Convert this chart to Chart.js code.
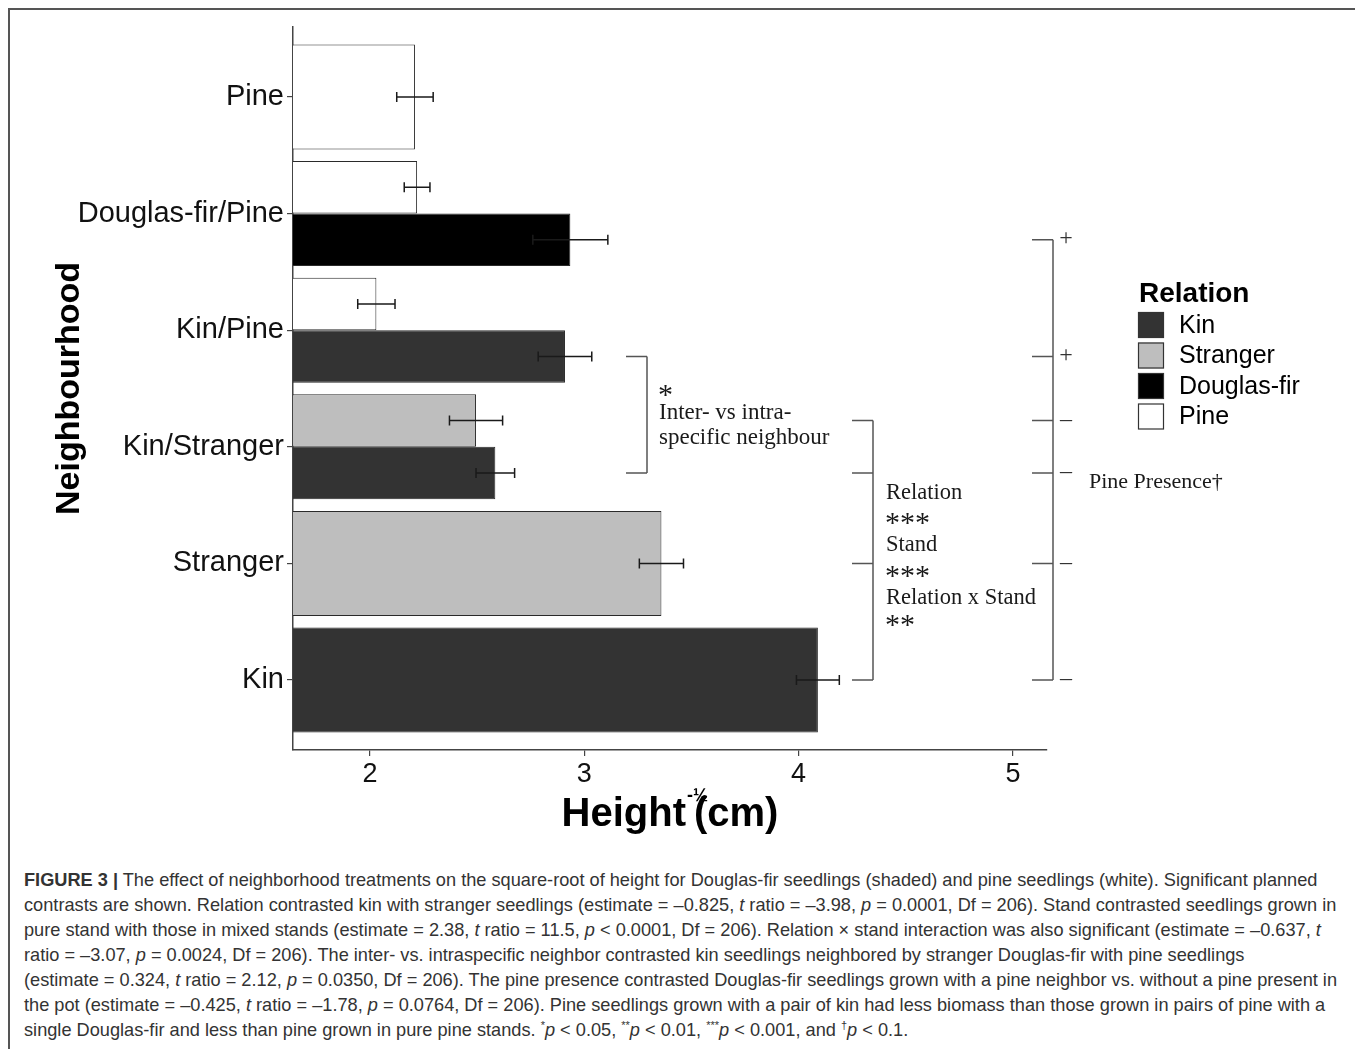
<!DOCTYPE html>
<html>
<head>
<meta charset="utf-8">
<title>Figure 3</title>
<script src="https://cdn.jsdelivr.net/npm/chart.js@4.4.0/dist/chart.umd.min.js"></script>
<style>
    body { margin: 0; background: #fff; }
    #page { position: relative; width: 1355px; height: 1049px; overflow: hidden; background: #fff; }
    #frame { position: absolute; left: 8px; top: 8px; width: 1400px; height: 1100px; border-left: 2px solid #555; border-top: 2px solid #555; }
    #plot { position: absolute; left: 0; top: 0; }
    #caption { position: absolute; left: 24px; top: 868px; font-family: "Liberation Sans", Arial, sans-serif; font-size: 18.2px; line-height: 25px; color: #333; white-space: nowrap; }
    #caption sup { font-size: 11px; line-height: 0; }
</style>
</head>
<body>
<div id="page">
    <div id="frame"></div>
    <canvas id="plot" width="1355" height="860"></canvas>
    <div id="caption">
        <div><b>FIGURE 3 |</b> The effect of neighborhood treatments on the square-root of height for Douglas-fir seedlings (shaded) and pine seedlings (white). Significant planned</div>
        <div>contrasts are shown. Relation contrasted kin with stranger seedlings (estimate = –0.825, <i>t</i> ratio = –3.98, <i>p</i> = 0.0001, Df = 206). Stand contrasted seedlings grown in</div>
        <div>pure stand with those in mixed stands (estimate = 2.38, <i>t</i> ratio = 11.5, <i>p</i> &lt; 0.0001, Df = 206). Relation × stand interaction was also significant (estimate = –0.637, <i>t</i></div>
        <div>ratio = –3.07, <i>p</i> = 0.0024, Df = 206). The inter- vs. intraspecific neighbor contrasted kin seedlings neighbored by stranger Douglas-fir with pine seedlings</div>
        <div>(estimate = 0.324, <i>t</i> ratio = 2.12, <i>p</i> = 0.0350, Df = 206). The pine presence contrasted Douglas-fir seedlings grown with a pine neighbor vs. without a pine present in</div>
        <div>the pot (estimate = –0.425, <i>t</i> ratio = –1.78, <i>p</i> = 0.0764, Df = 206). Pine seedlings grown with a pair of kin had less biomass than those grown in pairs of pine with a</div>
        <div>single Douglas-fir and less than pine grown in pure pine stands. <sup>*</sup><i>p</i> &lt; 0.05, <sup>**</sup><i>p</i> &lt; 0.01, <sup>***</sup><i>p</i> &lt; 0.001, and <sup>†</sup><i>p</i> &lt; 0.1.</div>
    </div>
</div>
<script>
// values
const categories = ['Pine', 'Douglas-fir/Pine', 'Kin/Pine', 'Kin/Stranger', 'Stranger', 'Kin'];
const pineHeight = [2.21, 2.22, 2.03, null, null, null];
const pineSE = [0.085, 0.06, 0.087, null, null, null];
const strangerHeight = [null, null, null, 2.495, 3.36, null];
const strangerSE = [null, null, null, 0.124, 0.103, null];
const douglasHeight = [null, 2.935, null, null, null, null];
const douglasSE = [null, 0.175, null, null, null, null];
const kinHeight = [null, null, 2.91, 2.585, null, 4.09];
const kinSE = [null, null, 0.125, 0.09, null, 0.1];
const xTicks = [2, 3, 4, 5];
const xMin = 1.641, xMax = 5.159;
const legendOrder = ['Kin', 'Stranger', 'Douglas-fir', 'Pine'];

const seByLabel = { 'Pine': pineSE, 'Stranger': strangerSE, 'Douglas-fir': douglasSE, 'Kin': kinSE };
const fills = { 'Pine': '#ffffff', 'Stranger': '#bebebe', 'Douglas-fir': '#000000', 'Kin': '#333333' };

const sans = '"Liberation Sans", Arial, sans-serif';
const serif = '"Liberation Serif", "Times New Roman", serif';

// contrast brackets: [series, category] pairs marking each end
const brackets = [
    { x: 647, marks: [['Kin', 'Kin/Pine'], ['Kin', 'Kin/Stranger']] },
    { x: 873, marks: [['Stranger', 'Kin/Stranger'], ['Kin', 'Kin/Stranger'], ['Stranger', 'Stranger'], ['Kin', 'Kin']] },
    { x: 1053, marks: [['Douglas-fir', 'Douglas-fir/Pine'], ['Kin', 'Kin/Pine'], ['Stranger', 'Kin/Stranger'], ['Kin', 'Kin/Stranger'], ['Stranger', 'Stranger'], ['Kin', 'Kin']],
      signs: ['+', '+', '–', '–', '–', '–'] }
];

function barY(chart, label, cat) {
    const i = chart.data.datasets.findIndex(d => d.label === label);
    return chart.getDatasetMeta(i).data[categories.indexOf(cat)].y;
}

const errorBars = {
    id: 'errorBars',
    afterDatasetsDraw(chart) {
        const ctx = chart.ctx, x = chart.scales.x;
        ctx.save();
        ctx.strokeStyle = '#1a1a1a';
        ctx.lineWidth = 1.5;
        chart.data.datasets.forEach((ds, i) => {
            const se = seByLabel[ds.label];
            chart.getDatasetMeta(i).data.forEach((bar, j) => {
                if (ds.data[j] == null) return;
                const lo = x.getPixelForValue(ds.data[j] - se[j]);
                const hi = x.getPixelForValue(ds.data[j] + se[j]);
                ctx.beginPath();
                ctx.moveTo(lo, bar.y); ctx.lineTo(hi, bar.y);
                ctx.moveTo(lo, bar.y - 5); ctx.lineTo(lo, bar.y + 5);
                ctx.moveTo(hi, bar.y - 5); ctx.lineTo(hi, bar.y + 5);
                ctx.stroke();
            });
        });
        ctx.restore();
    }
};

const extras = {
    id: 'extras',
    afterDraw(chart) {
        const ctx = chart.ctx, area = chart.chartArea;
        ctx.save();

        // x axis title with superscript
        ctx.fillStyle = '#000';
        ctx.textBaseline = 'alphabetic';
        ctx.textAlign = 'left';
        ctx.font = 'bold 40px ' + sans;
        const w1 = ctx.measureText('Height').width;
        const w3 = ctx.measureText('(cm)').width;
        const cx = (area.left + area.right) / 2;
        const start = cx - (w1 + 8 + w3) / 2;
        ctx.fillText('Height', start, 826);
        ctx.fillText('(cm)', start + w1 + 8, 826);
        ctx.font = 'bold 18px ' + sans;
        ctx.fillText('-½', start + w1 + 1, 801);

        // brackets
        ctx.strokeStyle = '#555';
        ctx.lineWidth = 1.5;
        brackets.forEach(b => {
            const ys = b.marks.map(m => barY(chart, m[0], m[1]));
            ctx.beginPath();
            ctx.moveTo(b.x, Math.min(...ys));
            ctx.lineTo(b.x, Math.max(...ys));
            ys.forEach(y => { ctx.moveTo(b.x - 21, y); ctx.lineTo(b.x, y); });
            ctx.stroke();
            if (b.signs) {
                ctx.font = '24px ' + serif;
                ctx.fillStyle = '#333';
                ctx.textAlign = 'center';
                ctx.textBaseline = 'middle';
                ys.forEach((y, k) => ctx.fillText(b.signs[k], b.x + 13, y - 1));
            }
        });

        // bracket labels
        ctx.fillStyle = '#1a1a1a';
        ctx.textAlign = 'left';
        ctx.textBaseline = 'alphabetic';
        ctx.font = '30px ' + serif;
        ctx.fillText('*', 658, 404);
        ctx.fillText('***', 885, 532);
        ctx.fillText('***', 885, 585);
        ctx.fillText('**', 885, 634);
        ctx.font = '23px ' + serif;
        ctx.fillText('Inter- vs intra-', 659, 419);
        ctx.fillText('specific neighbour', 659, 444);
        ctx.font = '22.5px ' + serif;
        ctx.fillText('Relation', 886, 499);
        ctx.fillText('Stand', 886, 551);
        ctx.fillText('Relation x Stand', 886, 604);
        ctx.font = '22px ' + serif;
        ctx.fillText('Pine Presence†', 1089, 488);

        // legend
        ctx.fillStyle = '#000';
        ctx.font = 'bold 28px ' + sans;
        ctx.fillText('Relation', 1139, 302);
        ctx.font = '25px ' + sans;
        ctx.strokeStyle = '#333';
        ctx.lineWidth = 1.2;
        legendOrder.forEach((name, k) => {
            const y = 312 + k * 30.5;
            ctx.fillStyle = fills[name];
            ctx.fillRect(1138, y, 26, 26);
            ctx.strokeRect(1138.5, y + 0.5, 25, 25);
            ctx.fillStyle = '#000';
            ctx.textBaseline = 'middle';
            ctx.fillText(name, 1179, y + 14);
        });
        ctx.restore();
    }
};

const datasets = ['Pine', 'Stranger', 'Douglas-fir', 'Kin'].map(name => ({
    label: name,
    data: { 'Pine': pineHeight, 'Stranger': strangerHeight, 'Douglas-fir': douglasHeight, 'Kin': kinHeight }[name],
    backgroundColor: fills[name],
    borderColor: '#2a2a2a',
    borderWidth: 1,
    skipNull: true,
    categoryPercentage: 0.9,
    barPercentage: 1
}));

new Chart(document.getElementById('plot'), {
    type: 'bar',
    data: { labels: categories, datasets: datasets },
    options: {
        indexAxis: 'y',
        responsive: false,
        animation: false,
        layout: { padding: { left: 0, right: 308, top: 27, bottom: 0 } },
        scales: {
            x: {
                type: 'linear',
                min: xMin,
                max: xMax,
                afterBuildTicks: s => { s.ticks = xTicks.map(v => ({ value: v })); },
                afterFit: s => { s.height = 110; },
                grid: { drawOnChartArea: false, tickLength: 6, color: '#444', lineWidth: 1.2 },
                border: { color: '#444', width: 1.5 },
                ticks: { color: '#111', font: { family: sans, size: 27 }, padding: 2, maxRotation: 0 }
            },
            y: {
                type: 'category',
                offset: true,
                // ggplot style 0.6 category expansion on each end
                afterBuildTicks: s => { s._startValue = -0.6; s._valueRange = categories.length + 0.2; },
                afterFit: s => { s.width = 293; },
                grid: { drawOnChartArea: false, offset: false, tickLength: 6, color: '#444', lineWidth: 1.2 },
                border: { color: '#444', width: 1.5 },
                ticks: { color: '#111', font: { family: sans, size: 29 }, padding: 3 },
                title: { display: true, text: 'Neighbourhood', color: '#000', font: { family: sans, size: 34, weight: 'bold' }, padding: { top: 49, bottom: 0 } }
            }
        },
        plugins: {
            legend: { display: false },
            tooltip: { enabled: false }
        }
    },
    plugins: [errorBars, extras]
});
</script>
</body>
</html>
